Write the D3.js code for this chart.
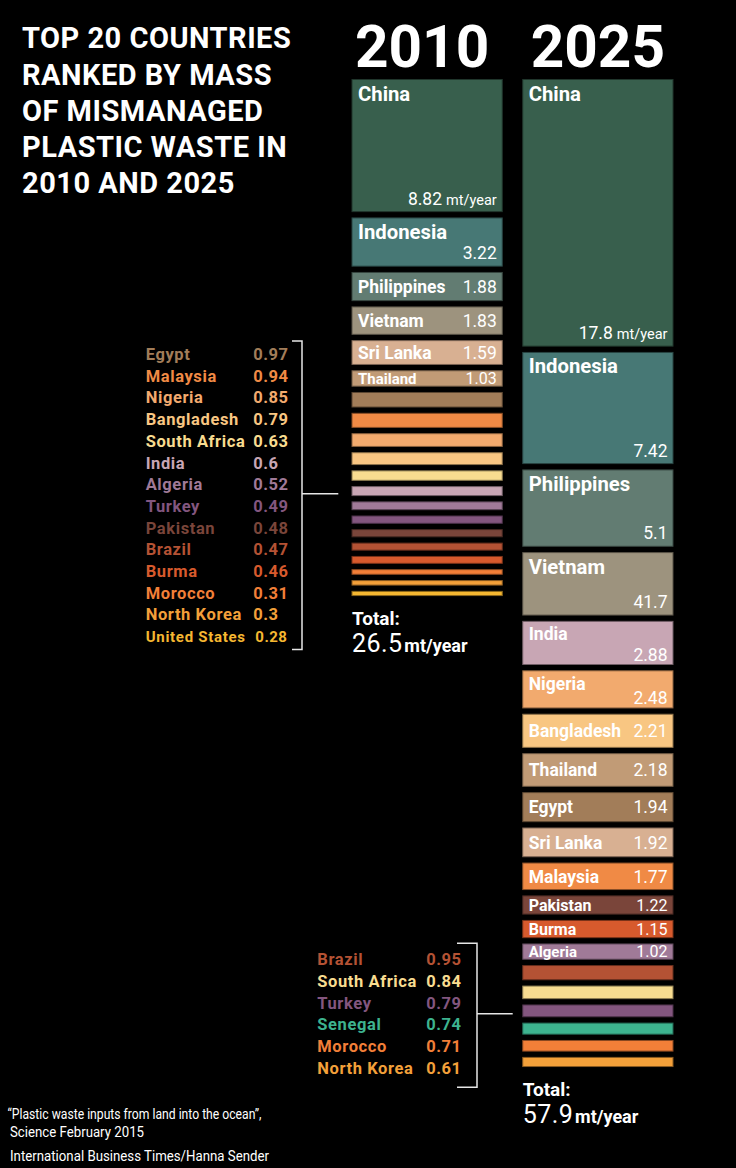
<!DOCTYPE html>
<html>
<head>
<meta charset="utf-8">
<script src="https://cdn.jsdelivr.net/npm/d3@7"></script>
<style>
  html, body { margin: 0; padding: 0; background: #000; }
  svg { display: block; font-family: Roboto, "Noto Sans", sans-serif; }
</style>
</head>
<body>
<svg id="chart" width="736" height="1168"></svg>
<script>
// ---------- data ----------
const years = ["2010", "2025"];
const countries2010 = ["China","Indonesia","Philippines","Vietnam","Sri Lanka","Thailand","Egypt","Malaysia","Nigeria","Bangladesh","South Africa","India","Algeria","Turkey","Pakistan","Brazil","Burma","Morocco","North Korea","United States"];
const values2010 = [8.82,3.22,1.88,1.83,1.59,1.03,0.97,0.94,0.85,0.79,0.63,0.6,0.52,0.49,0.48,0.47,0.46,0.31,0.3,0.28];
const countries2025 = ["China","Indonesia","Philippines","Vietnam","India","Nigeria","Bangladesh","Thailand","Egypt","Sri Lanka","Malaysia","Pakistan","Burma","Algeria","Brazil","South Africa","Turkey","Senegal","Morocco","North Korea"];
const values2025 = [17.8,7.42,5.1,4.17,2.88,2.48,2.21,2.18,1.94,1.92,1.77,1.22,1.15,1.02,0.95,0.84,0.79,0.74,0.71,0.61];
// labels exactly as printed on the chart (the Vietnam 2025 label reads "41.7")
const printed2010 = ["8.82","3.22","1.88","1.83","1.59","1.03","0.97","0.94","0.85","0.79","0.63","0.6","0.52","0.49","0.48","0.47","0.46","0.31","0.3","0.28"];
const printed2025 = ["17.8","7.42","5.1","41.7","2.88","2.48","2.21","2.18","1.94","1.92","1.77","1.22","1.15","1.02","0.95","0.84","0.79","0.74","0.71","0.61"];
const totals = ["26.5", "57.9"];
const labelledInBar = [6, 14];
const titleLines = ["TOP 20 COUNTRIES","RANKED BY MASS","OF MISMANAGED","PLASTIC WASTE IN","2010 AND 2025"];
const sourceLines = ["\u201CPlastic waste inputs from land into  the ocean\u201D,", "Science February 2015", "International Business Times/Hanna Sender"];

// ---------- style ----------
const palette = {
  "China":"#385f4d","Indonesia":"#477875","Philippines":"#627c72","Vietnam":"#9d937e",
  "Sri Lanka":"#d8b092","Thailand":"#c19b76","Egypt":"#a27d59","Malaysia":"#f08a45",
  "Nigeria":"#f2aa6e","Bangladesh":"#f8c682","South Africa":"#f8dc90","India":"#c8a6b4",
  "Algeria":"#a07a98","Turkey":"#83567f","Pakistan":"#7a453a","Brazil":"#b45234",
  "Burma":"#d75a2d","Morocco":"#f27f38","North Korea":"#f3a03a","United States":"#f5b731",
  "Senegal":"#3db38f"
};

const svg = d3.select("#chart");
svg.append("rect").attr("width", 736).attr("height", 1168).attr("fill", "#000");

// scales
const x = d3.scaleBand().domain(years).range([352, 673]).paddingInner(0.12).paddingOuter(0);
const h = d3.scaleLinear().domain([0, 20]).range([0, 299.6]);
const top0 = 79.5, gap = 6.3;

const columns = [
  {year: "2010", names: countries2010, values: values2010, printed: printed2010, total: totals[0], nLab: labelledInBar[0]},
  {year: "2025", names: countries2025, values: values2025, printed: printed2025, total: totals[1], nLab: labelledInBar[1]}
];

// title
const title = svg.append("text").attr("x", 22).attr("fill", "#fff")
  .attr("font-weight", 700).attr("font-size", 29).attr("letter-spacing", 0.5);
titleLines.forEach((t, i) => title.append("tspan").attr("x", 22).attr("y", 48.3 + i * 36.25).text(t));

// year headings
svg.selectAll("text.year").data(years).join("text")
  .attr("class", "year")
  .attr("x", d => x(d) + x.bandwidth() / 2 - (d === "2010" ? 5 : 0))
  .attr("y", 66.7)
  .attr("text-anchor", "middle")
  .attr("fill", "#fff").attr("font-weight", 700).attr("font-size", 58.5)
  .text(d => d);

columns.forEach((col, ci) => {
  let y = top0;
  const rows = col.values.map((v, i) => {
    const r = {name: col.names[i], value: v, printed: col.printed[i], y0: y, hh: h(v), i};
    y += h(v) + gap;
    return r;
  });
  const g = svg.append("g");
  const x0 = x(col.year), bw = x.bandwidth();

  g.selectAll("rect").data(rows).join("rect")
    .attr("x", x0).attr("y", d => d.y0)
    .attr("width", bw).attr("height", d => d.hh)
    .attr("fill", d => palette[d.name])
    .attr("stroke", d => d3.color(palette[d.name]).darker(1.6))
    .attr("stroke-width", 1);

  // in-bar labels
  const lab = rows.filter(d => d.i < col.nLab);
  lab.forEach(d => {
    const two = d.hh >= 35;
    const nameSize = d.hh > 45 ? 20.3 : (d.hh >= 20 ? 17.5 : (d.hh > 16.5 ? 16 : 15));
    const valSize = d.hh >= 20 ? 17.5 : 16;
    if (two) {
      g.append("text").attr("x", x0 + 6).attr("y", d.y0 + (d.hh > 45 ? 21 : 19))
        .attr("fill", "#fff").attr("font-weight", 700).attr("font-size", nameSize).text(d.name);
      const vt = g.append("text").attr("x", x0 + bw - 5.5).attr("y", d.y0 + d.hh - (d.hh > 45 ? 7 : 3.8))
        .attr("text-anchor", "end").attr("fill", "#fff").attr("font-size", valSize);
      vt.append("tspan").text(d.printed);
      if (d.i === 0) vt.append("tspan").attr("font-size", 14.5).attr("dx", 4).text("mt/year");
    } else {
      const by = d.y0 + d.hh / 2 + nameSize * 0.355;
      g.append("text").attr("x", x0 + 6).attr("y", by)
        .attr("fill", "#fff").attr("font-weight", 700).attr("font-size", nameSize).text(d.name);
      g.append("text").attr("x", x0 + bw - 5.5).attr("y", by)
        .attr("text-anchor", "end").attr("fill", "#fff").attr("font-size", valSize).text(d.printed);
    }
  });

  // totals
  const last = rows[rows.length - 1];
  const ty = last.y0 + last.hh;
  g.append("text").attr("x", x0).attr("y", ty + 29.3)
    .attr("fill", "#fff").attr("font-weight", 700).attr("font-size", 19).text("Total:");
  const tt = g.append("text").attr("x", x0).attr("y", ty + 56.5).attr("fill", "#fff");
  tt.append("tspan").attr("font-size", 25).attr("letter-spacing", 0.4).text(col.total);
  tt.append("tspan").attr("font-size", 18).attr("font-weight", 700).attr("dx", 2).text("mt/year");

  // legend for unlabelled bars
  const rest = rows.filter(d => d.i >= col.nLab);
  const lg = ci === 0
    ? {nameX: 145.7, valX: 253.3, y0: 360, step: 21.7, brX: 302, tick: 10, top: 341, bot: 649.5, lineTo: 338.3}
    : {nameX: 317.3, valX: 426.3, y0: 965, step: 21.8, brX: 477, tick: 20, top: 943.3, bot: 1087.3, lineTo: 512.7};
  rest.forEach((d, k) => {
    const fs = d.name.length > 12 ? 15 : 16.5;
    g.append("text").attr("x", lg.nameX).attr("y", lg.y0 + k * lg.step)
      .attr("fill", palette[d.name]).attr("font-weight", 700).attr("font-size", fs)
      .attr("letter-spacing", fs < 16 ? 0.7 : 0.6).text(d.name);
    g.append("text").attr("x", lg.valX + (fs < 16 ? 2 : 0)).attr("y", lg.y0 + k * lg.step)
      .attr("fill", palette[d.name]).attr("font-weight", 700).attr("font-size", fs)
      .attr("letter-spacing", 0.5).text(d.printed);
  });
  const mid = (lg.top + lg.bot) / 2 - 1.5;
  g.append("path")
    .attr("d", `M${lg.brX - lg.tick},${lg.top}H${lg.brX}V${lg.bot}H${lg.brX - lg.tick}M${lg.brX},${mid}H${lg.lineTo}`)
    .attr("fill", "none").attr("stroke", "#e6e6e6").attr("stroke-width", 1.5);
});

// source
const src = [
  {t: sourceLines[0], x: 7.5, y: 1119.3, len: 254, fs: 14.5},
  {t: sourceLines[1], x: 10, y: 1136.5, len: 134, fs: 14.5},
  {t: sourceLines[2], x: 10, y: 1160.7, len: 259, fs: 15}
];
svg.selectAll("text.src").data(src).join("text")
  .attr("class", "src")
  .attr("x", d => d.x).attr("y", d => d.y)
  .attr("fill", "#fff").attr("font-size", d => d.fs)
  .attr("textLength", d => d.len).attr("lengthAdjust", "spacingAndGlyphs")
  .text(d => d.t);
</script>
</body>
</html>
